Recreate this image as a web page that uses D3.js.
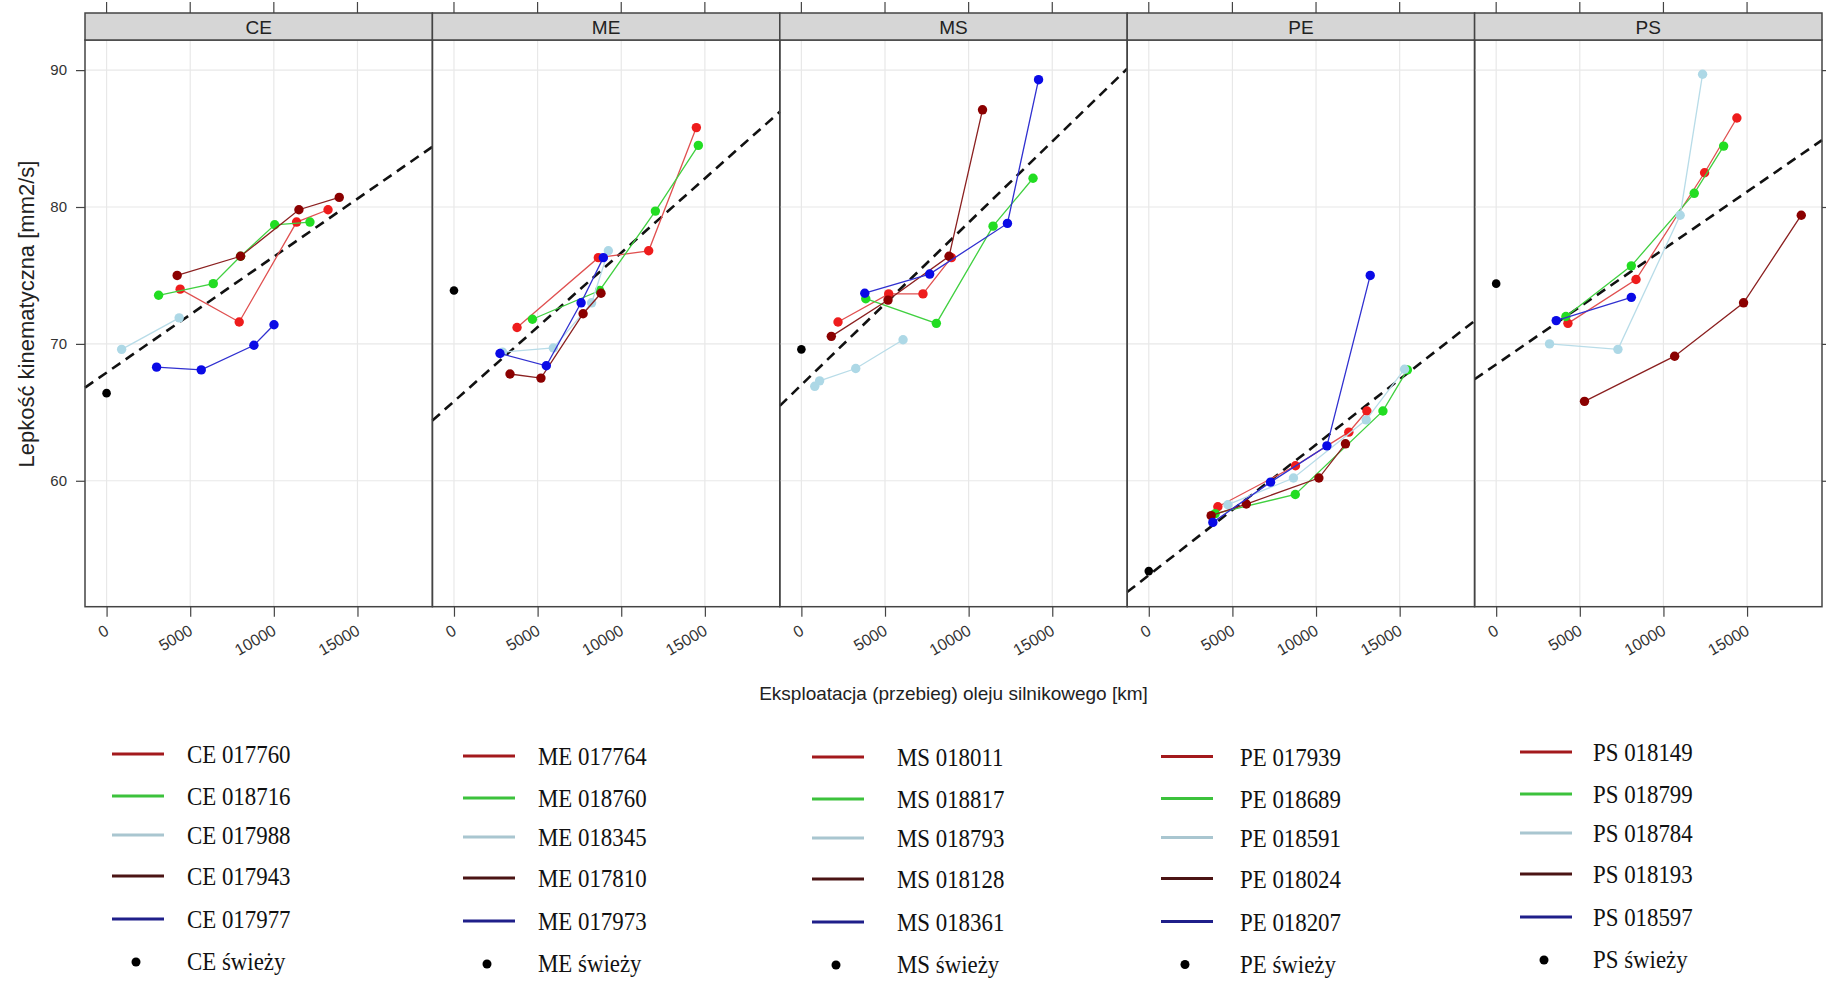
<!DOCTYPE html>
<html>
<head>
<meta charset="utf-8">
<script src="https://cdn.jsdelivr.net/npm/d3@7"></script>
<style>
  body { margin: 0; background: #fff; }
  svg { display: block; }
</style>
</head>
<body>
<svg id="chart" width="1826" height="981"></svg>
<script>
// panels, ticks, fresh oil and trend line per panel
const panels = ["CE", "ME", "MS", "PE", "PS"];
const xTicks = [0, 5000, 10000, 15000];
const yTicks = [60, 70, 80, 90];
const freshVisc = [66.4, 73.9, 69.6, 53.4, 74.4];
const trendIntercept = [67.9, 65.8, 67.0, 53.1, 68.5];
const trendSlope = [0.000847, 0.001086, 0.001186, 0.000954, 0.000841];

// series per panel, order: red, green, lightblue, darkred, blue
const ceSeries = [
  { id: "CE 017760", km: [4400, 7930, 11360, 13240], visc: [74.0, 71.6, 78.9, 79.8] },
  { id: "CE 018716", km: [3110, 6380, 8010, 10050, 12160], visc: [73.55, 74.4, 76.4, 78.7, 78.9] },
  { id: "CE 017988", km: [900, 4340], visc: [69.6, 71.9] },
  { id: "CE 017943", km: [4220, 8010, 11500, 13910], visc: [75.0, 76.4, 79.8, 80.7] },
  { id: "CE 017977", km: [2990, 5660, 8810, 10010], visc: [68.3, 68.1, 69.9, 71.4] }
];
const meSeries = [
  { id: "ME 017764", km: [3770, 8630, 11640, 14490], visc: [71.2, 76.3, 76.8, 85.8] },
  { id: "ME 018760", km: [4690, 8710, 12040, 14610], visc: [71.8, 73.9, 79.7, 84.5] },
  { id: "ME 018345", km: [2900, 5940, 8230, 9230], visc: [69.4, 69.7, 73.0, 76.8] },
  { id: "ME 017810", km: [3350, 5200, 7720, 8790], visc: [67.8, 67.5, 72.2, 73.7] },
  { id: "ME 017973", km: [2750, 5520, 7600, 8930], visc: [69.3, 68.4, 73.0, 76.3] }
];
const msSeries = [
  { id: "MS 018011", km: [2190, 5220, 7270, 8970], visc: [71.6, 73.65, 73.65, 76.3] },
  { id: "MS 018817", km: [3850, 8070, 11460, 13850], visc: [73.3, 71.5, 78.6, 82.1] },
  { id: "MS 018793", km: [800, 1090, 3250, 6080], visc: [66.9, 67.3, 68.2, 70.3] },
  { id: "MS 018128", km: [1790, 5180, 8830, 10830], visc: [70.55, 73.2, 76.4, 87.1] },
  { id: "MS 018361", km: [3790, 7670, 12320, 14180], visc: [73.7, 75.1, 78.8, 89.3] }
];
const peSeries = [
  { id: "PE 017939", km: [4130, 8770, 11960, 13040], visc: [58.1, 61.1, 63.55, 65.1] },
  { id: "PE 018689", km: [3970, 8760, 14000, 15460], visc: [57.6, 59.0, 65.1, 68.1] },
  { id: "PE 018591", km: [4730, 8650, 13000, 15290], visc: [58.25, 60.2, 64.45, 68.15] },
  { id: "PE 018024", km: [3730, 5830, 10170, 11760], visc: [57.45, 58.3, 60.2, 62.7] },
  { id: "PE 018207", km: [3830, 7280, 10650, 13240], visc: [56.96, 59.9, 62.55, 75.0] }
];
const psSeries = [
  { id: "PS 018149", km: [4290, 8360, 12460, 14390], visc: [71.5, 74.7, 82.5, 86.5] },
  { id: "PS 018799", km: [4170, 8080, 11840, 13600], visc: [72.0, 75.7, 81.0, 84.45] },
  { id: "PS 018784", km: [3190, 7280, 11000, 12340], visc: [70.0, 69.6, 79.4, 89.7] },
  { id: "PS 018193", km: [5280, 10670, 14790, 18240], visc: [65.8, 69.1, 73.0, 79.4] },
  { id: "PS 018597", km: [3590, 8080], visc: [71.7, 73.4] }
];
const allSeries = [ceSeries, meSeries, msSeries, peSeries, psSeries];

const pointColors = ["#ee1c1c", "#22dd22", "#add8e6", "#8b0000", "#0a0ae6"];
const lineColors = ["#e05050", "#40d040", "#b8dce8", "#8b2020", "#3030d0"];
const legendColors = ["#a3191c", "#3cc23c", "#a9c6d0", "#4b1414", "#1f1f8a"];

const svg = d3.select("#chart");
const margin = { left: 85, top: 40, strip: 27 };
const panelW = 347.4, panelH = 566.7;
const axisFont = "'Liberation Sans', Arial, sans-serif";
const legendFont = "'Liberation Serif', 'Times New Roman', serif";

const x = d3.scaleLinear().domain([-1290, 19480]).range([0, panelW]);
const y = d3.scaleLinear().domain([50.8, 92.2]).range([panelH, 0]);

const line = d3.line()
  .x(d => x(d[0]))
  .y(d => y(d[1]));

panels.forEach((name, i) => {
  const g = svg.append("g")
    .attr("transform", `translate(${margin.left + i * panelW},${margin.top})`);

  // grid
  g.append("g").selectAll("line").data(xTicks).join("line")
    .attr("x1", d => x(d)).attr("x2", d => x(d))
    .attr("y1", 0).attr("y2", panelH)
    .attr("stroke", "#e8e8e8").attr("stroke-width", 1.2);
  g.append("g").selectAll("line").data(yTicks).join("line")
    .attr("x1", 0).attr("x2", panelW)
    .attr("y1", d => y(d)).attr("y2", d => y(d))
    .attr("stroke", "#e8e8e8").attr("stroke-width", 1.2);

  // trend line
  const xd = x.domain();
  g.append("path")
    .datum(xd.map(k => [k, trendIntercept[i] + trendSlope[i] * k]))
    .attr("d", line)
    .attr("fill", "none")
    .attr("stroke", "#111")
    .attr("stroke-width", 2.6)
    .attr("stroke-dasharray", "10,6.5");

  // series
  allSeries[i].forEach((s, j) => {
    const pts = s.km.map((k, n) => [k, s.visc[n]]);
    g.append("path")
      .datum(pts)
      .attr("d", line)
      .attr("fill", "none")
      .attr("stroke", lineColors[j])
      .attr("stroke-width", 1.3);
    g.selectAll(null).data(pts).join("circle")
      .attr("cx", d => x(d[0]))
      .attr("cy", d => y(d[1]))
      .attr("r", 4.7)
      .attr("fill", pointColors[j]);
  });

  // fresh oil
  g.append("circle")
    .attr("cx", x(0))
    .attr("cy", y(freshVisc[i]))
    .attr("r", 4.3)
    .attr("fill", "#000");

  // frame
  g.append("rect")
    .attr("width", panelW).attr("height", panelH)
    .attr("fill", "none").attr("stroke", "#444").attr("stroke-width", 1.5);

  // strip
  g.append("rect")
    .attr("y", -margin.strip).attr("width", panelW).attr("height", margin.strip)
    .attr("fill", "#d6d6d6").attr("stroke", "#444").attr("stroke-width", 1.5);
  g.append("text")
    .attr("x", panelW / 2).attr("y", -margin.strip / 2 + 1)
    .attr("text-anchor", "middle").attr("dominant-baseline", "central")
    .style("font-family", axisFont).style("font-size", "19px").attr("fill", "#222")
    .text(name);

  // top ticks
  g.append("g").selectAll("line").data(xTicks).join("line")
    .attr("x1", d => x(d)).attr("x2", d => x(d))
    .attr("y1", -margin.strip).attr("y2", -margin.strip - 11)
    .attr("stroke", "#444").attr("stroke-width", 1.2);

  // bottom axis
  const xAxis = g.append("g")
    .attr("transform", `translate(0,${panelH})`)
    .call(d3.axisBottom(x).tickValues(xTicks).tickSize(10).tickFormat(d3.format("d")));
  xAxis.select(".domain").remove();
  xAxis.selectAll("line").attr("stroke", "#444").attr("stroke-width", 1.2);
  xAxis.selectAll("text")
    .attr("y", 0).attr("dy", 0)
    .attr("text-anchor", "end")
    .attr("transform", "translate(3,27) rotate(-30)")
    .style("font-family", axisFont).style("font-size", "16px").attr("fill", "#333");

  if (i === 0) {
    const yAxis = g.append("g")
      .call(d3.axisLeft(y).tickValues(yTicks).tickSize(9).tickPadding(9));
    yAxis.select(".domain").remove();
    yAxis.selectAll("line").attr("stroke", "#444").attr("stroke-width", 1.2);
    yAxis.selectAll("text")
      .style("font-family", axisFont).style("font-size", "15px").attr("fill", "#333");
  }
  if (i === panels.length - 1) {
    const yRight = g.append("g")
      .attr("transform", `translate(${panelW},0)`)
      .call(d3.axisRight(y).tickValues(yTicks).tickSize(10).tickFormat(""));
    yRight.select(".domain").remove();
    yRight.selectAll("line").attr("stroke", "#444").attr("stroke-width", 1.2);
  }
});

// axis titles
svg.append("text")
  .attr("x", margin.left + panelW * panels.length / 2)
  .attr("y", 700)
  .attr("text-anchor", "middle")
  .style("font-family", axisFont).style("font-size", "19px").attr("fill", "#222")
  .text("Eksploatacja (przebieg) oleju silnikowego [km]");

svg.append("text")
  .attr("transform", "translate(26,314) rotate(-90)")
  .attr("text-anchor", "middle")
  .attr("dominant-baseline", "central")
  .style("font-family", axisFont).style("font-size", "22px").attr("fill", "#222")
  .text("Lepkość kinematyczna [mm2/s]");

// legend
const legendLineX = [112, 463, 812, 1161, 1520];
const legendTextX = [187, 538, 897, 1240, 1593];
const legendRowY = [754, 796, 835, 876, 919, 962];
const legendColDy = [0, 2, 3, 2.5, -2];

const legendLabel = (sel, tx, ty, txt) => sel.append("text")
  .attr("transform", `translate(${tx},${ty}) scale(0.88,1)`)
  .style("font-family", legendFont)
  .style("font-size", "26px").attr("fill", "#111")
  .text(txt);

panels.forEach((name, i) => {
  const lg = svg.append("g").attr("transform", `translate(0,${legendColDy[i]})`);
  allSeries[i].forEach((s, j) => {
    lg.append("line")
      .attr("x1", legendLineX[i]).attr("x2", legendLineX[i] + 52)
      .attr("y1", legendRowY[j]).attr("y2", legendRowY[j])
      .attr("stroke", legendColors[j]).attr("stroke-width", 3);
    legendLabel(lg, legendTextX[i], legendRowY[j] + 9, s.id);
  });
  lg.append("circle")
    .attr("cx", legendLineX[i] + 24).attr("cy", legendRowY[5])
    .attr("r", 4.5).attr("fill", "#000");
  legendLabel(lg, legendTextX[i], legendRowY[5] + 8, name + " świeży");
});
</script>
</body>
</html>
